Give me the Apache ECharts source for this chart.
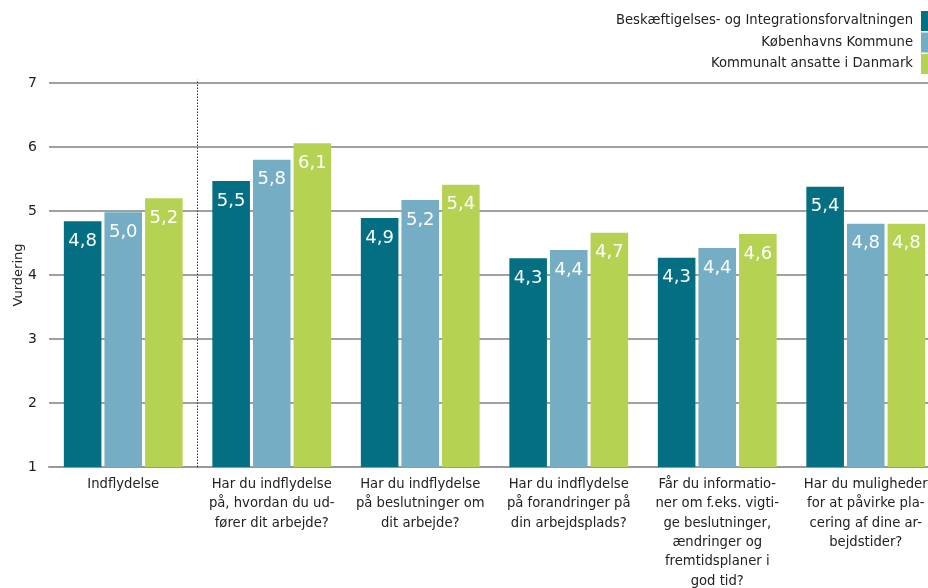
<!DOCTYPE html>
<html><head><meta charset="utf-8">
<script src="https://cdn.jsdelivr.net/npm/echarts@6/dist/echarts.min.js"></script>
<style>html,body{margin:0;padding:0;background:#fff}#c{width:928px;height:588px}</style>
</head><body><div id="c"></div>
<script>
const categories = [
  "Indflydelse",
  "Har du indflydelse\npå, hvordan du ud-\nfører dit arbejde?",
  "Har du indflydelse\npå beslutninger om\ndit arbejde?",
  "Har du indflydelse\npå forandringer på\ndin arbejdsplads?",
  "Får du informatio-\nner om f.eks. vigti-\nge beslutninger,\nændringer og\nfremtidsplaner i\ngod tid?",
  "Har du muligheder\nfor at påvirke pla-\ncering af dine ar-\nbejdstider?"
];
const seriesNames = ["Beskæftigelses- og Integrationsforvaltningen", "Københavns Kommune", "Kommunalt ansatte i Danmark"];
const bif = [4.84, 5.47, 4.89, 4.26, 4.27, 5.38];
const kk  = [4.98, 5.80, 5.17, 4.39, 4.42, 4.80];
const dk  = [5.20, 6.06, 5.41, 4.66, 4.64, 4.80];
const colors = ["#046f82", "#75aec4", "#b6d253"];
const yTicks = [1, 2, 3, 4, 5, 6, 7];
// separator after the first (summary) category: boundary index 1 on a 0..6 scale
const separatorAt = 1;
const separatorRange = [1, 7.05];

const FONT = "'DejaVu Sans', sans-serif";
const chart = echarts.init(document.getElementById('c'));
const mk = (name, data, i) => ({
  name, type: 'bar', data,
  itemStyle: { color: colors[i] },
  barGap: '8%', barCategoryGap: '20%',
  label: {
    show: true, position: 'insideTop', distance: 11, color: '#fff',
    fontFamily: FONT, fontSize: 18,
    formatter: p => p.value.toFixed(1).replace('.', ',')
  }
});
chart.setOption({
  animation: false,
  textStyle: { fontFamily: FONT },
  color: colors,
  legend: {
    orient: 'vertical', right: -10, top: 6, align: 'right',
    itemWidth: 12, itemHeight: 20, itemGap: 1.5,
    icon: 'rect',
    textStyle: { fontFamily: FONT, fontSize: 13.2, color: '#222', padding: [0, 3, 0, 0] },
    data: seriesNames
  },
  grid: { left: 49, right: -12, top: 83, bottom: 121, containLabel: false, outerBoundsMode: 'none' },
  xAxis: [{
    type: 'category', data: categories,
    axisLine: { lineStyle: { color: '#999', width: 2 } },
    axisTick: { show: false },
    splitLine: { show: false },
    axisLabel: { fontFamily: FONT, fontSize: 13.2, color: '#222', lineHeight: 19.3, margin: 8, interval: 0 }
  }, {
    type: 'value', min: 0, max: categories.length, show: false
  }],
  yAxis: {
    type: 'value', min: yTicks[0], max: yTicks[yTicks.length - 1], interval: 1,
    name: 'Vurdering', nameLocation: 'middle', nameGap: 24, nameRotate: 90, nameMoveOverlap: false,
    nameTextStyle: { fontFamily: FONT, fontSize: 13, color: '#222' },
    axisLine: { show: false }, axisTick: { show: false },
    splitLine: { lineStyle: { color: '#a0a0a0', width: 2 } },
    axisLabel: { fontFamily: FONT, fontSize: 14, color: '#222', margin: 12 }
  },
  series: [
    mk(seriesNames[0], bif, 0), mk(seriesNames[1], kk, 1), mk(seriesNames[2], dk, 2),
    {
      type: 'line', xAxisIndex: 1, symbol: 'none', silent: true, clip: false,
      lineStyle: { color: '#333', width: 1, type: [1.5, 1.5] },
      data: separatorRange.map(v => [separatorAt, v]), z: 1
    }
  ]
});
</script></body></html>
